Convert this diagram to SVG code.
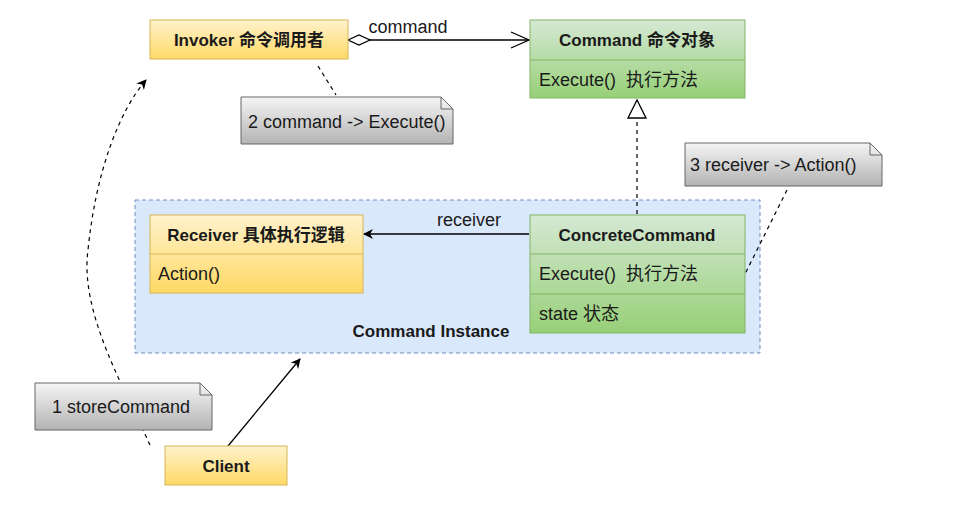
<svg xmlns="http://www.w3.org/2000/svg" width="958" height="507" viewBox="0 0 958 507">
<defs>
<linearGradient id="gy" x1="0" y1="0" x2="0" y2="1"><stop offset="0" stop-color="#fff2cc"/><stop offset="1" stop-color="#ffd966"/></linearGradient>
<linearGradient id="gg" x1="0" y1="0" x2="0" y2="1"><stop offset="0" stop-color="#d5e8d4"/><stop offset="1" stop-color="#97d077"/></linearGradient>
<linearGradient id="gn" x1="0" y1="0" x2="0" y2="1"><stop offset="0" stop-color="#f5f5f5"/><stop offset="1" stop-color="#b3b3b3"/></linearGradient>
<marker id="arr" viewBox="0 0 10 10" refX="9" refY="5" markerWidth="10" markerHeight="10" markerUnits="userSpaceOnUse" orient="auto"><path d="M0,0 L10,5 L0,10 L3,5 Z" fill="#000"/></marker>
<marker id="open" viewBox="0 0 20 20" refX="19" refY="10" markerWidth="20" markerHeight="20" markerUnits="userSpaceOnUse" orient="auto"><path d="M1,2 L19,10 L1,18" fill="none" stroke="#000" stroke-width="1.3"/></marker>
<marker id="dia" viewBox="0 0 24 12" refX="1" refY="6" markerWidth="24" markerHeight="12" markerUnits="userSpaceOnUse" orient="auto"><path d="M1,6 L12,1 L23,6 L12,11 Z" fill="#fff" stroke="#000" stroke-width="1.3"/></marker>
<marker id="tri" viewBox="0 0 20 20" refX="19" refY="10" markerWidth="20" markerHeight="20" markerUnits="userSpaceOnUse" orient="auto"><path d="M1,1 L19,10 L1,19 Z" fill="#fff" stroke="#000" stroke-width="1.3"/></marker>
</defs>
<style>
text{font-family:"Liberation Sans",Arial,"Noto Sans CJK SC",sans-serif;fill:#1a1a1a}
.b{font-weight:bold;font-size:17px}
.t{font-size:18px}
.y{fill:url(#gy);stroke:#d6b656;stroke-width:1}
.g{fill:url(#gg);stroke:#82b366;stroke-width:1}
.n{fill:url(#gn);stroke:#666;stroke-width:1}
.sep{stroke:#82b366;stroke-width:1}
.sepy{stroke:#d6b656;stroke-width:1}
.c{fill:none;stroke:#000;stroke-width:1.3}
.d{fill:none;stroke:#000;stroke-width:1.2;stroke-dasharray:4 4}
</style>
<rect width="958" height="507" fill="#fff"/>

<g id="instance">
<rect x="135" y="200" width="625" height="153" fill="#dae8fc" stroke="#6c8ebf" stroke-dasharray="4 3"/>
<text x="431" y="337" class="b" text-anchor="middle">Command Instance</text>
</g>

<g id="connectors">
<line x1="348" y1="40" x2="529" y2="40" class="c" marker-start="url(#dia)" marker-end="url(#open)"/>
<text x="408" y="33" class="t" text-anchor="middle">command</text>
<line x1="318" y1="66" x2="336" y2="95" class="d"/>
<line x1="637" y1="214" x2="637" y2="100" class="d" marker-end="url(#tri)"/>
<line x1="529" y1="234" x2="364" y2="234" class="c" marker-end="url(#arr)"/>
<text x="469" y="226" class="t" text-anchor="middle">receiver</text>
<line x1="787" y1="190" x2="745" y2="274" class="d"/>
<line x1="228" y1="446" x2="300" y2="359" class="c" marker-end="url(#arr)"/>
<path d="M150,445 C120,380 80,310 88,250 C96,170 120,110 146,80" class="d" marker-end="url(#arr)"/>
</g>

<g id="invoker">
<rect x="150" y="20" width="198" height="39" class="y"/>
<text x="249" y="46" class="b" text-anchor="middle">Invoker 命令调用者</text>
</g>

<g id="command">
<rect x="530" y="20" width="215" height="78" class="g"/>
<line x1="530" y1="60" x2="745" y2="60" class="sep"/>
<text x="637" y="46" class="b" text-anchor="middle">Command 命令对象</text>
<text x="539" y="86" class="t" xml:space="preserve">Execute()  执行方法</text>
</g>

<g id="note2">
<path d="M241,97 H441 L453,109 V144 H241 Z" class="n"/>
<path d="M441,97 V109 H453" fill="none" stroke="#666"/>
<text x="248" y="128" class="t">2 command -&gt; Execute()</text>
</g>

<g id="note3">
<path d="M685,143 H870 L882,155 V186 H685 Z" class="n"/>
<path d="M870,143 V155 H882" fill="none" stroke="#666"/>
<text x="690" y="171" class="t">3 receiver -&gt; Action()</text>
</g>

<g id="receiver">
<rect x="150" y="215" width="213" height="78" class="y"/>
<line x1="150" y1="254" x2="363" y2="254" class="sepy"/>
<text x="256" y="241" class="b" text-anchor="middle">Receiver 具体执行逻辑</text>
<text x="158" y="280" class="t">Action()</text>
</g>

<g id="concrete">
<rect x="530" y="215" width="215" height="118" class="g"/>
<line x1="530" y1="254" x2="745" y2="254" class="sep"/>
<line x1="530" y1="294" x2="745" y2="294" class="sep"/>
<text x="637" y="241" class="b" text-anchor="middle">ConcreteCommand</text>
<text x="539" y="280" class="t" xml:space="preserve">Execute()  执行方法</text>
<text x="539" y="320" class="t">state 状态</text>
</g>

<g id="note1">
<path d="M35,383 H200 L212,395 V430 H35 Z" class="n"/>
<path d="M200,383 V395 H212" fill="none" stroke="#666"/>
<text x="52" y="413" class="t">1 storeCommand</text>
</g>

<g id="client">
<rect x="165" y="446" width="122" height="39" class="y"/>
<text x="226" y="472" class="b" text-anchor="middle">Client</text>
</g>
</svg>
